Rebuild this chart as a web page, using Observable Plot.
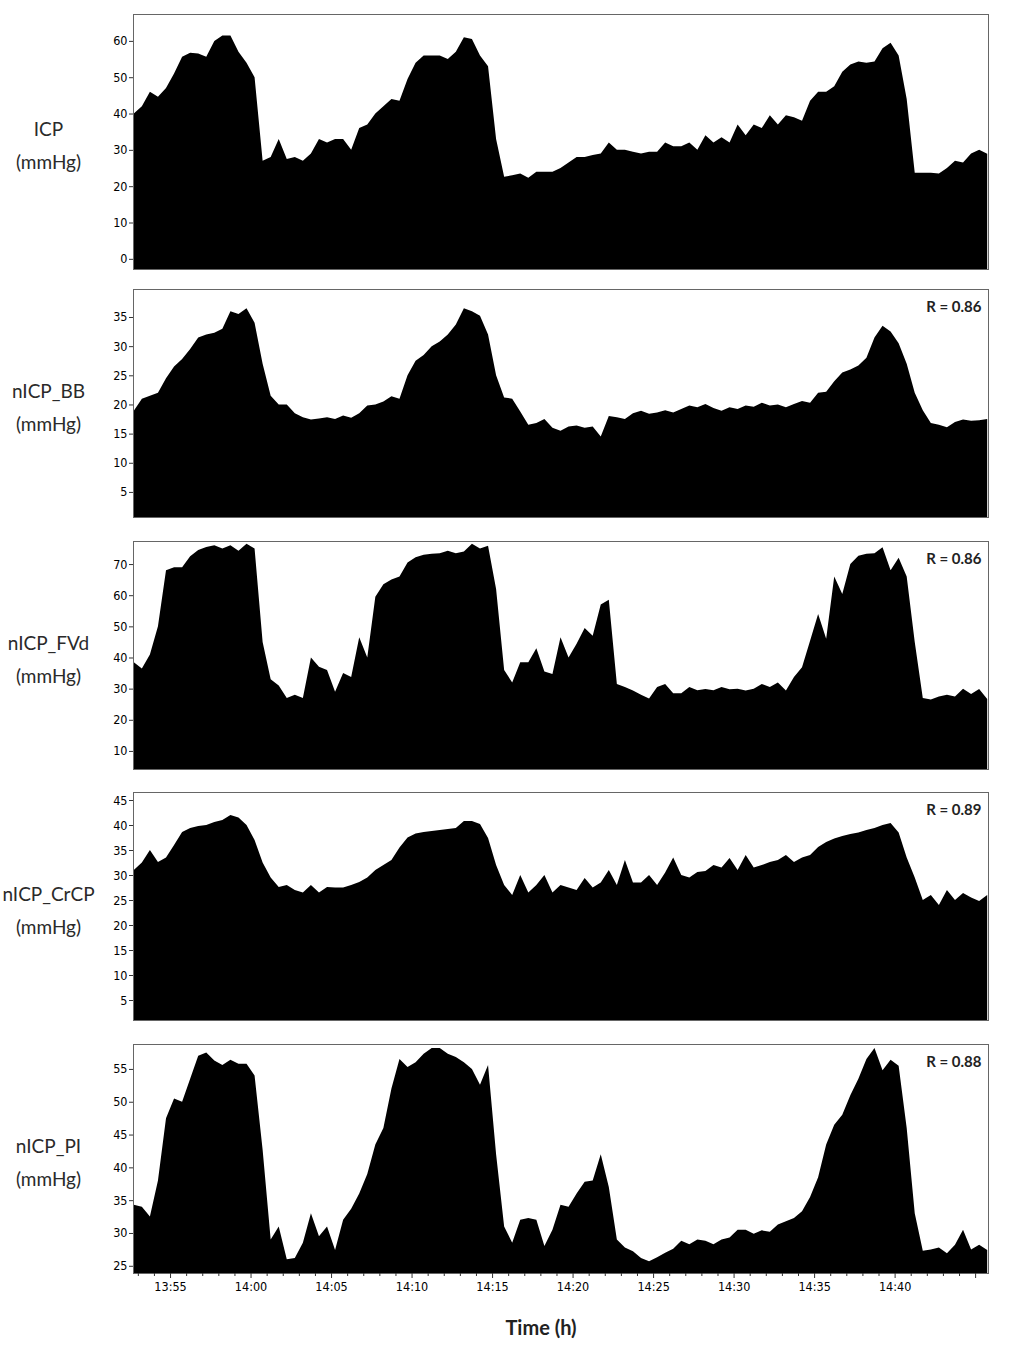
<!DOCTYPE html>
<html>
<head>
<meta charset="utf-8">
<script src="https://cdn.jsdelivr.net/npm/d3@7"></script>
<script src="https://cdn.jsdelivr.net/npm/@observablehq/plot@0.6"></script>
<style>
  body { margin: 0; background: #fff; }
  #chart svg { display: block; }
  .tk text { font-stretch: condensed; }
</style>
</head>
<body>
<div id="chart"></div>
<script>
// Sample times: minutes after 13:00, one sample every 0.5 min starting 13:52:45
const startMinute = 52.75;
const stepMinute = 0.5;

const icp = [40,42,46,44.6,47,51,55.6,56.7,56.5,55.6, 60,61.5,61.5,57,54,50,27,28,33,27.5,
  28,27,29,33,32,33,33,30,36,37, 40,42,44,43.5,49.5,54,56,56,56,55,
  57,61,60.5,56,53,33,22.6,23,23.5,22.3, 24,24,24,25,26.5,28,28,28.6,29,32,
  30,30,29.5,29,29.5,29.5,32,31,31,32, 30,34,32,33.5,32,37,34,37,36,39.5,
  37,39.5,39,38,43.5,46,46,47.5,51.5,53.5, 54.3,54,54.3,58,59.5,56,44,23.7,23.7,23.7,
  23.5,25,27,26.5,29,30,28.9];

const nicpBB = [18.9,21,21.5,22,24.5,26.5,27.8,29.5,31.5,32, 32.3,33,36,35.5,36.5,34,27,21.5,20,20,
  18.5,17.8,17.4,17.6,17.8,17.5,18.1,17.7,18.5,19.8, 20,20.5,21.4,21,25,27.5,28.5,30,30.8,32,
  33.7,36.5,36,35.2,32,25,21.2,21,18.8,16.5, 16.8,17.5,16,15.5,16.2,16.4,16,16.2,14.5,18,
  17.8,17.5,18.5,18.9,18.4,18.6,19,18.6,19.2,19.8, 19.5,20.1,19.4,18.9,19.5,19.2,19.8,19.6,20.3,19.8,
  20,19.5,20.1,20.6,20.3,22,22.2,24,25.5,26, 26.7,28,31.5,33.5,32.5,30.5,27,22,19,16.8,
  16.5,16.1,17,17.4,17.2,17.3,17.5];

const nicpFVd = [38.5,36.5,41,50,68,69,69,72.5,74.5,75.5, 76,75,76,74.3,76.5,75,45,33,31,27,
  28,27,40,37,36,29,35,33.7,46.5,40, 59.5,63.5,65,66,70.5,72.2,73,73.3,73.5,74.3,
  73.5,74,76.5,75,75.9,62,36,32,38.5,38.5, 43,35.5,34.7,46.5,40,44.4,49.5,47,57,58.5,
  31.5,30.5,29.4,28,26.8,30.5,31.5,28.5,28.5,30.5, 29.5,29.9,29.5,30.5,29.8,30,29.4,30,31.5,30.5,
  32,29.4,33.7,36.9,45.4,54,46,66,60.4,70, 72.7,73.3,73.5,75.4,68,72,66,45,27,26.5,
  27.5,28,27.5,30,28.3,29.9,26.7];

const nicpCrCP = [31,32.5,35,32.6,33.5,36,38.6,39.4,39.8,40, 40.6,41,42,41.5,40,37,32.5,29.5,27.6,28,
  27,26.5,28,26.5,27.6,27.5,27.5,28,28.6,29.5, 31,32,33,35.5,37.5,38.3,38.6,38.8,39,39.2,
  39.4,40.8,40.8,40.2,37.4,32,28,26,30,26.5, 28,30,26.5,28,27.5,27,29.4,27.5,28.5,31,
  28,33,28.5,28.5,30,28,30.5,33.5,30,29.5, 30.6,30.8,32,31.5,33.4,31,34,31.5,32,32.6,
  33,34,32.6,33.5,34,35.6,36.6,37.3,37.8,38.2, 38.5,39,39.4,40,40.4,38.5,33.5,29.5,25,26,
  24,27,25,26.4,25.5,24.8,26];

const nicpPI = [34.3,34,32.5,38,47.5,50.5,50,53.5,57,57.5, 56.3,55.6,56.4,55.8,55.8,54,42.7,29,31,26,
  26.2,28.5,33,29.5,31,27.4,32,33.7,36,39, 43.5,46,52,56.5,55.3,56,57.3,58.2,58.2,57.3,
  56.8,56,55,52.6,55.6,42,31,28.5,32,32.3, 32,28,30.5,34.3,34,36,37.8,38,42,37,
  29,27.8,27.2,26.2,25.7,26.3,27,27.6,28.8,28.3, 29,28.8,28.3,29,29.3,30.5,30.5,29.9,30.4,30.2,
  31.3,31.8,32.3,33.3,35.5,38.5,43.5,46.5,48,51, 53.5,56.5,58.2,54.8,56.4,55.5,46,33,27.3,27.5,
  27.8,26.9,28.2,30.5,27.5,28.2,27.4];

const panelLabels = ["ICP\n(mmHg)", "nICP_BB\n(mmHg)", "nICP_FVd\n(mmHg)", "nICP_CrCP\n(mmHg)", "nICP_PI\n(mmHg)"];
const rValues = [null, "R = 0.86", "R = 0.86", "R = 0.89", "R = 0.88"];
const yTicks = [
  [0, 10, 20, 30, 40, 50, 60],
  [5, 10, 15, 20, 25, 30, 35],
  [10, 20, 30, 40, 50, 60, 70],
  [5, 10, 15, 20, 25, 30, 35, 40, 45],
  [25, 30, 35, 40, 45, 50, 55]
];
const yDomains = [[-2.8, 67.4], [0.7, 39.8], [4.2, 77.4], [1, 46.6], [23.9, 58.8]];
const xTicks = [55, 60, 65, 70, 75, 80, 85, 90, 95, 100, 105];
const xTickLabels = ["13:55", "14:00", "14:05", "14:10", "14:15", "14:20", "14:25", "14:30", "14:35", "14:40", ""];
const xMinorTicks = [53,54,56,57,58,59,61,62,63,64,66,67,68,69,71,72,73,74,76,77,78,79,81,82,83,84,86,87,88,89,91,92,93,94,96,97,98,99,101,102,103,104];
const xDomain = [52.7, 105.8];
const xTitle = "Time (h)";

const series = [icp, nicpBB, nicpFVd, nicpCrCP, nicpPI];
const layout = [
  {height: 279, mt: 14, mb: 10},
  {height: 250, mt: 10, mb: 12},
  {height: 251, mt: 12, mb: 11},
  {height: 252, mt: 12, mb: 12},
  {height: 324, mt: 12, mb: 83}
];

const TICKFONT = "'DejaVu Sans', sans-serif";
const LABELFONT = "Lato, 'Open Sans', sans-serif";
const chart = document.getElementById("chart");

series.forEach((vals, k) => {
  const data = vals.map((v, i) => ({t: startMinute + i * stepMinute, v}));
  const last = k === series.length - 1;
  const dom = yDomains[k];
  const marks = [
    Plot.areaY(data, {x: "t", y1: dom[0], y2: "v", fill: "black", curve: "linear"}),
    Plot.frame({stroke: "#666", strokeWidth: 1}),
    Plot.axisY({ticks: yTicks[k], label: null, tickSize: 4, tickPadding: 2, fontSize: 12.5,
      fill: "#000", stroke: "#333", className: "tk"}),
    Plot.text([panelLabels[k]], {
      frameAnchor: "left", dx: -85, textAnchor: "middle", lineAnchor: "middle",
      lineHeight: 1.75, fontSize: 19, fill: "#2a2a2a", fontFamily: LABELFONT
    })
  ];
  if (rValues[k]) {
    marks.push(Plot.text([rValues[k]], {
      frameAnchor: "top-right", dx: -7, dy: 18, textAnchor: "end", lineAnchor: "middle",
      fontSize: 15, fontWeight: "bold", fill: "#222", fontFamily: LABELFONT
    }));
  }
  if (last) {
    marks.push(Plot.axisX({ticks: xMinorTicks, label: null, tickSize: 3, text: null, stroke: "#333"}));
    marks.push(Plot.axisX({
      ticks: xTicks, label: null, tickSize: 5, tickPadding: 4, fontSize: 12.5, fill: "#000", stroke: "#333",
      className: "tk", tickFormat: d => xTickLabels[xTicks.indexOf(d)]
    }));
    marks.push(Plot.text([xTitle], {
      frameAnchor: "bottom", dx: -20, dy: 55, textAnchor: "middle", lineAnchor: "middle",
      fontSize: 20, fontWeight: "bold", fill: "#222", fontFamily: LABELFONT
    }));
  }
  const svg = Plot.plot({
    width: 1024,
    height: layout[k].height,
    marginLeft: 133,
    marginRight: 36,
    marginTop: layout[k].mt,
    marginBottom: layout[k].mb,
    style: {fontFamily: TICKFONT, fontSize: "13px", color: "#111", background: "#fff"},
    x: {domain: xDomain, axis: null},
    y: {domain: dom, axis: null},
    marks
  });
  chart.appendChild(svg);
});
</script>
</body>
</html>
